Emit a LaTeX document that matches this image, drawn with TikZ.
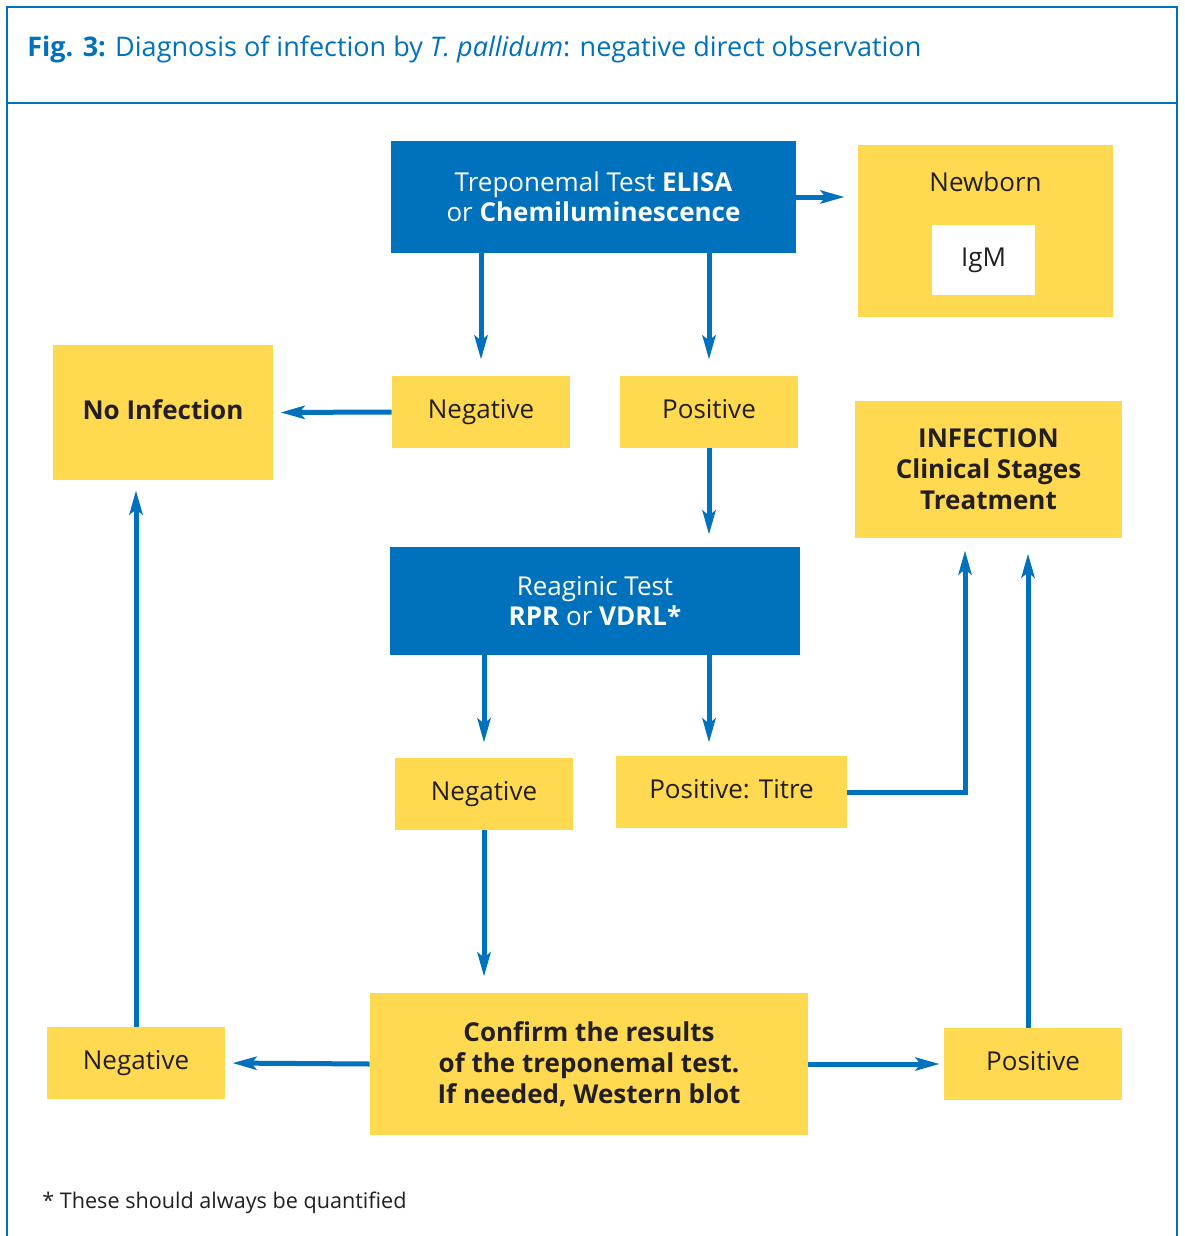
\documentclass[tikz,border=0pt]{standalone}
\usepackage{fontspec}
\setmainfont{Open Sans}
\usepackage{xcolor}
\definecolor{diagblue}{HTML}{0071BC}
\definecolor{diagyellow}{HTML}{FFD94F}
\definecolor{inktext}{HTML}{231F20}
\usetikzlibrary{
  positioning,
  arrows.meta,
  calc
}

\begin{document}
\begin{tikzpicture}[
  x=0.5pt, y=-0.5pt,
  >={Stealth[length=12pt, width=6.5pt, inset=2.5pt]},
  boxfont/.style={font=\fontsize{13}{15}\selectfont},
  boldfont/.style={font=\fontsize{13}{15.5}\selectfont\bfseries},
  oneline/.style={text height=1.5ex, text depth=0.25ex},
  testbox/.style={
    rectangle, inner sep=0pt, align=center, boxfont,
    fill=diagblue, text=white
  },
  resbox/.style={
    rectangle, inner sep=0pt, minimum width=89pt, minimum height=36pt,
    align=center, boxfont, fill=diagyellow, text=inktext
  },
  flow/.style={->, draw=diagblue, line width=2.5pt},
  panel/.style={draw=diagblue, line width=0.8pt}
]

\useasboundingbox (0,0) rectangle (1184,1236);
\draw[panel] (7,7) rectangle (1177,103);
\draw[panel] (7,103) -- (7,1236) (1177,103) -- (1177,1236);

\node[anchor=base west, inner sep=0pt, font=\fontsize{13.5}{16}\selectfont, text=diagblue]
  (title) at (27,57)
  {\textbf{Fig. 3:} Diagnosis of infection by \textit{T. pallidum}: negative direct observation};

\node[testbox, minimum width=202.5pt, minimum height=56pt] (trep) at (593.5,197)
  {Treponemal Test \textbf{ELISA}\\or \textbf{Chemiluminescence}};
\node[resbox, minimum width=127.5pt, minimum height=86pt] (newborn) at (985.5,231) {};
\node[boxfont, oneline, text=inktext, inner sep=0pt] (newborntxt) at (985.5,185) {Newborn};
\node[boxfont, oneline, fill=white, text=inktext, minimum width=51.5pt, minimum height=35pt]
  (igm) at (983.5,260) {IgM};

\node[resbox, oneline] (neg1) at (481,412) {Negative};
\node[resbox, oneline] (pos1) at (709,412) {Positive};
\node[resbox, boldfont, oneline, minimum width=110pt, minimum height=67.5pt] (noinf)
  at (163,412.5) {No Infection};
\node[resbox, boldfont, minimum width=133.5pt, minimum height=68.5pt] (infect) at (988.5,469.5)
  {INFECTION\\Clinical Stages\\Treatment};

\node[testbox, minimum width=205pt, minimum height=54pt] (reag) at (595,601)
  {Reaginic Test\\\textbf{RPR} or \textbf{VDRL*}};
\node[resbox, oneline] (neg2) at (484,794) {Negative};
\node[resbox, oneline, minimum width=115.5pt] (titre) at (731.5,792) {Positive: Titre};

\node[resbox, boldfont, minimum width=219pt, minimum height=71pt] (confirm) at (589,1064)
  {Confirm the results\\of the treponemal test.\\If needed, Western blot};
\node[resbox, oneline] (neg3) at (136,1063) {Negative};
\node[resbox, oneline] (pos3) at (1033,1064) {Positive};

\node[anchor=base west, inner sep=0pt, font=\fontsize{10.8}{13}\selectfont, text=inktext]
  (note) at (42,1208) {* These should always be quantified};

\draw[flow, shorten >=6.5pt] (trep.east) -- (trep.east -| newborn.west);
\draw[flow, shorten >=8pt] (neg1.north |- trep.south) -- (neg1.north);
\draw[flow, shorten >=8pt] (pos1.north |- trep.south) -- (pos1.north);
\draw[flow, shorten >=3.5pt] (neg1.west) -- (noinf.east);
\draw[flow, shorten >=6pt] (pos1.south) -- (pos1.south |- reag.north);
\draw[flow, shorten >=7.5pt] (neg2.north |- reag.south) -- (neg2.north);
\draw[flow, shorten >=6.5pt] (pos1.south |- reag.south) -- (pos1.south |- titre.north);
\draw[flow, shorten >=6pt] (titre.east) -| ([xshift=-11.75pt]infect.south);
\draw[flow, shorten >=8pt] (neg2.south) -- (neg2.south |- confirm.north);
\draw[flow, shorten >=3.5pt] (confirm.west) -- (neg3.east);
\draw[flow, shorten >=2pt] (confirm.east) -- (pos3.west);
\draw[flow, shorten >=7.5pt] ([xshift=-2.5pt]pos3.north) -- ([xshift=-2.5pt]pos3.north |- infect.south);
\draw[flow, shorten >=5pt] (neg3.north) -- (neg3.north |- noinf.south);

\end{tikzpicture}
\end{document}
